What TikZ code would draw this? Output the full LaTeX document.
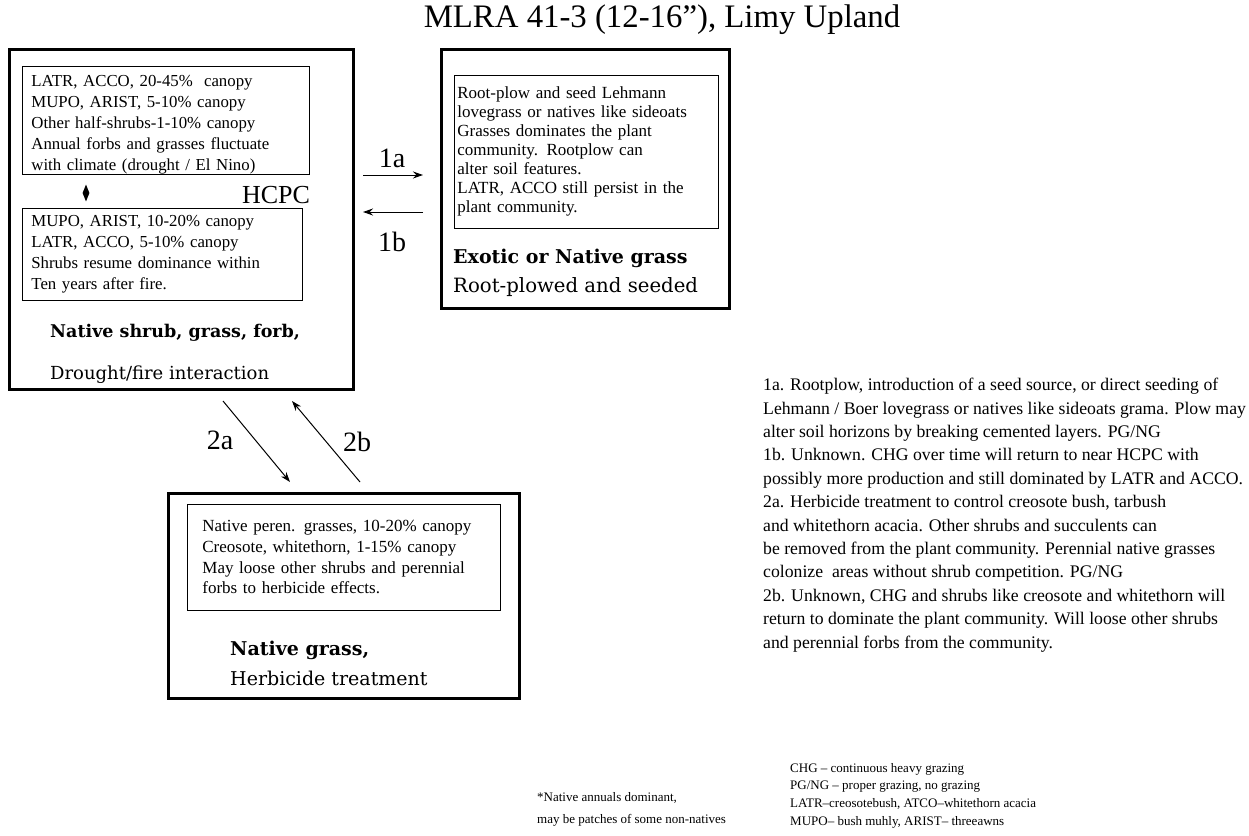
\documentclass[tikz,border=0pt]{standalone}
\usepackage{fontspec}
\setmainfont{Liberation Serif}
\newfontfamily\headfont{DejaVu Serif}
\usetikzlibrary{shapes.geometric,arrows.meta,calc}

\begin{document}
\begin{tikzpicture}[x=1pt, y=-1pt,
    state/.style={draw, line width=3pt, anchor=north west, inner sep=0pt},
    info/.style={draw, line width=0.8pt, anchor=north west, align=left, inner ysep=2pt, font=\fontsize{16.8}{21}\selectfont},
    head/.style={anchor=west, inner sep=0pt, font=\headfont\fontsize{18}{20}\selectfont},
    lbl/.style={inner sep=0pt, font=\fontsize{28}{30}\selectfont},
    arrow/.style={-{Stealth[length=10pt, width=7pt]}, line width=1pt}]

    \useasboundingbox (0,0) rectangle (1249,835);

    % Title
    \node[inner sep=0pt, font=\fontsize{32.8}{34}\selectfont] (title) at (662,20) {MLRA 41-3 (12-16”), Limy Upland};

    % Boxes - HCPC
    \node[state, minimum width=344, minimum height=340] (hcpc) at (8,48) {};
    \node[info, minimum width=287, minimum height=108, text width=269, inner xsep=9pt, inner ysep=0pt] (hcpcA) at (22,66)
        {\rule{0pt}{20pt}LATR, ACCO, 20-45\%\ \ canopy\\MUPO, ARIST, 5-10\% canopy\\Other half-shrubs-1-10\% canopy\\Annual forbs and grasses fluctuate\\with climate (drought / El Nino)};
    \node[diamond, fill, inner sep=0pt, minimum width=7, minimum height=17] (dia) at (86,193) {};
    \node[lbl, font=\fontsize{26}{28}\selectfont] (hcpclbl) at (276,195) {HCPC};
    \node[info, minimum width=280, minimum height=92, text width=262, inner xsep=9pt] (hcpcB) at (22,208)
        {MUPO, ARIST, 10-20\% canopy\\LATR, ACCO, 5-10\% canopy\\Shrubs resume dominance within\\Ten years after fire.};
    \node[head, font=\headfont\fontsize{17.5}{20}\selectfont] (hcpcname) at (50,333) {\bfseries Native shrub, grass, forb,};
    \node[head] (hcpcsub) at (50,375) {Drought/fire interaction};

    % Boxes - exotic grass
    \node[state, minimum width=288, minimum height=259] (exotic) at (440,48) {};
    \node[info, minimum width=264, minimum height=153, text width=258, inner xsep=3pt, font=\fontsize{17}{19}\selectfont] (exoticA) at (454,75)
        {Root-plow and seed Lehmann\\lovegrass or natives like sideoats\\Grasses dominates the plant\\community. Rootplow can\\alter soil features.\\LATR, ACCO still persist in the\\plant community.};
    \node[head, font=\headfont\fontsize{19}{21}\selectfont] (exoticname) at (453,258) {\bfseries Exotic or Native grass};
    \node[head, font=\headfont\fontsize{19.7}{22}\selectfont] (exoticsub) at (453,287) {Root-plowed and seeded};

    % Boxes - native grass
    \node[state, minimum width=351, minimum height=205] (grass) at (167,492) {};
    \node[info, minimum width=313, minimum height=106, text width=283, inner xsep=15pt, font=\fontsize{17}{20.7}\selectfont] (grassA) at (187,504)
        {Native peren. grasses, 10-20\% canopy\\Creosote, whitethorn, 1-15\% canopy\\May loose other shrubs and perennial\\forbs to herbicide effects.};
    \node[head, font=\headfont\fontsize{19}{21}\selectfont] (grassname) at (230,650) {\bfseries Native grass,};
    \node[head, font=\headfont\fontsize{19}{21}\selectfont] (grasssub) at (230,678) {Herbicide treatment};

    % Arrows
    \draw[arrow] ($(hcpc.north east)+(8,127)$) -- ($(exotic.north west)+(-17,127)$);
    \draw[arrow] ($(exotic.north west)+(-17,164)$) -- ($(hcpc.north east)+(8,164)$);
    \draw[arrow] ($(hcpc.south west)+(215,10)$) -- ($(grass.north west)+(123,-10)$);
    \draw[arrow] ($(grass.north west)+(193,-10)$) -- ($(hcpc.south west)+(284,10)$);
    \node[lbl] (l1a) at (392,158) {1a};
    \node[lbl] (l1b) at (392,242) {1b};
    \node[lbl] (l2a) at (220,440) {2a};
    \node[lbl] (l2b) at (357,442) {2b};

    % Notes
    \node[anchor=north west, align=left, inner sep=0pt, font=\fontsize{17.7}{23.4}\selectfont] (notes) at (763,378)
        {1a. Rootplow, introduction of a seed source, or direct seeding of\\
         Lehmann / Boer lovegrass or natives like sideoats grama. Plow may\\
         alter soil horizons by breaking cemented layers. PG/NG\\
         1b. Unknown. CHG over time will return to near HCPC with\\
         possibly more production and still dominated by LATR and ACCO.\\
         2a. Herbicide treatment to control creosote bush, tarbush\\
         and whitethorn acacia. Other shrubs and succulents can\\
         be removed from the plant community. Perennial native grasses\\
         colonize\ \ areas without shrub competition. PG/NG\\
         2b. Unknown, CHG and shrubs like creosote and whitethorn will\\
         return to dominate the plant community. Will loose other shrubs\\
         and perennial forbs from the community.};

    % Footnote and legend
    \node[anchor=north west, align=left, inner sep=0pt, font=\fontsize{13}{22}\selectfont] (annuals) at (537,792)
        {*Native annuals dominant,\\may be patches of some non-natives};
    \node[anchor=north west, align=left, inner sep=0pt, font=\fontsize{13}{17.7}\selectfont] (legend) at (790,763)
        {CHG -- continuous heavy grazing\\PG/NG -- proper grazing, no grazing\\LATR--creosotebush, ATCO--whitethorn acacia\\MUPO-- bush muhly, ARIST-- threeawns};
\end{tikzpicture}
\end{document}
